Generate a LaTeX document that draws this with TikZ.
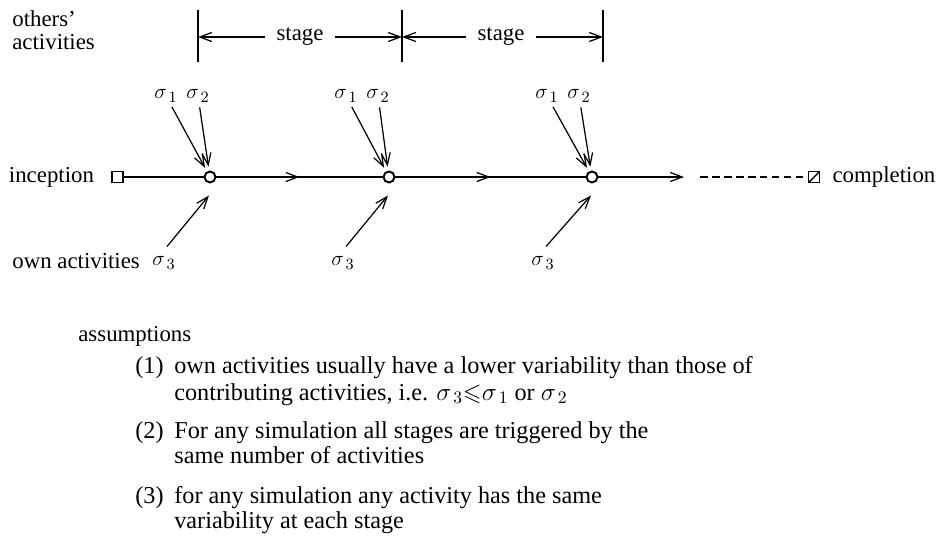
\documentclass[tikz,border=0pt]{standalone}
\usepackage{amsmath,amssymb}
\usepackage{fontspec}
\setmainfont{Liberation Serif}
\usepackage{tikz}
\usetikzlibrary{
    arrows.meta,       % barb arrow tips
    positioning,       % labels beside the end boxes
    calc,
    decorations.markings % arrow in the middle of a segment
}

\begin{document}
\begin{tikzpicture}[
    x=0.02cm, y=-0.02cm,
    txt/.style={inner sep=0pt, font=\fontsize{13}{14.2}\selectfont},
    item/.style={inner sep=0pt, anchor=base west, text height=9pt, text depth=2.5pt,
        font=\fontsize{13.8}{14.2}\selectfont},
    sig/.style={inner sep=0pt, font=\fontsize{13}{14.2}\selectfont},
    junction/.style={draw, circle, line width=1.1pt, minimum size=0.22cm, inner sep=0pt},
    endbox/.style={draw, rectangle, line width=0.8pt, minimum size=0.22cm, inner sep=0pt},
    mainline/.style={line width=0.7pt},
    arrow/.style={-{Straight Barb[length=2.4mm, width=1.8mm]}, line width=0.7pt},
    midarrow/.style={postaction=decorate, decoration={markings,
        mark=at position 0.5 with {\arrow{Straight Barb[length=2.4mm, width=1.8mm]}}}},
  ]
    \useasboundingbox (0,0) rectangle (942,548);

    % Stage markers
    \node[txt, anchor=base west] (oth1) at (12,26) {others'};
    \node[txt, anchor=base west] (oth2) at (12,49) {activities};
    \coordinate (b1t) at (198,10); \coordinate (b1b) at (198,62);
    \coordinate (b2t) at (402,10); \coordinate (b2b) at (402,62);
    \coordinate (b3t) at (603,10); \coordinate (b3b) at (603,62);
    \draw[mainline] (b1t) -- (b1b);
    \draw[mainline] (b2t) -- (b2b);
    \draw[mainline] (b3t) -- (b3b);
    \node[txt, inner xsep=0.22cm] (st1) at (300,37) {stage};
    \node[txt, inner xsep=0.22cm] (st2) at (501,37) {stage};
    \draw[arrow] (st1.west) -- (st1.west -| b1t);
    \draw[arrow] (st1.east) -- (st1.east -| b2t);
    \draw[arrow] (st2.west) -- (st2.west -| b2t);
    \draw[arrow] (st2.east) -- (st2.east -| b3t);

    % Main line
    \node[endbox] (start) at (117.5,177) {};
    \node[txt, left=0.34cm of start] (inc) {inception};
    \node[junction] (j1) at (210,177) {};
    \node[junction] (j2) at (389,177) {};
    \node[junction] (j3) at (592,177) {};
    \coordinate (e3) at (684,177);
    \coordinate (d0) at (700,177);
    \node[endbox, path picture={\draw (path picture bounding box.south west) -- (path picture bounding box.north east);}] (finish) at (814,177) {};
    \node[txt, right=0.24cm of finish] (comp) {completion};

    \draw[mainline] (start) -- (j1);
    \draw[mainline, midarrow] (j1) -- (j2);
    \draw[mainline, midarrow] (j2) -- (j3);
    \draw[arrow] (j3) -- (e3);
    \draw[mainline, dash pattern=on 0.15cm off 0.09cm] (d0) -- (finish);

    % Contributing activities
    \node[sig] (s1a) at (166,96) {$\sigma_{\,1}$};
    \node[sig] (s1b) at (198,96) {$\sigma_{\,2}$};
    \node[sig] (s2a) at (346,96) {$\sigma_{\,1}$};
    \node[sig] (s2b) at (378,96) {$\sigma_{\,2}$};
    \node[sig] (s3a) at (547,96) {$\sigma_{\,1}$};
    \node[sig] (s3b) at (579,96) {$\sigma_{\,2}$};
    \draw[arrow, shorten <=0.1cm, shorten >=0.08cm] (s1a) -- (j1);
    \draw[arrow, shorten <=0.1cm, shorten >=0.08cm] (s1b) -- (j1);
    \draw[arrow, shorten <=0.1cm, shorten >=0.08cm] (s2a) -- (j2);
    \draw[arrow, shorten <=0.1cm, shorten >=0.08cm] (s2b) -- (j2);
    \draw[arrow, shorten <=0.1cm, shorten >=0.08cm] (s3a) -- (j3);
    \draw[arrow, shorten <=0.1cm, shorten >=0.08cm] (s3b) -- (j3);

    % Own activities
    \node[txt, anchor=base west] (own) at (12,268) {own activities};
    \node[sig] (s1c) at (164,263) {$\sigma_{\,3}$};
    \node[sig] (s2c) at (343,263) {$\sigma_{\,3}$};
    \node[sig] (s3c) at (543,263) {$\sigma_{\,3}$};
    \draw[arrow] ([shift={(3,-10)}]s1c.north) -- ([shift={(-1,12)}]j1.south);
    \draw[arrow] ([shift={(3,-10)}]s2c.north) -- ([shift={(-1,12)}]j2.south);
    \draw[arrow] ([shift={(3,-10)}]s3c.north) -- ([shift={(-1,12)}]j3.south);

    % Assumptions
    \node[txt, anchor=base west] (ass) at (78,341) {assumptions};
    \node[item] (n1) at (135,373) {(1)};
    \node[item] (t1a) at (174,373) {own activities usually have a lower variability than those of};
    \node[item] (t1b) at (174,400) {contributing activities, i.e. $\sigma_{\,3}{\leqslant}\sigma_{\,1}$ or $\sigma_{\,2}$};
    \node[item] (n2) at (135,438) {(2)};
    \node[item] (t2a) at (174,438) {For any simulation all stages are triggered by the};
    \node[item] (t2b) at (174,463) {same number of activities};
    \node[item] (n3) at (135,503) {(3)};
    \node[item] (t3a) at (174,503) {for any simulation any activity has the same};
    \node[item] (t3b) at (174,528) {variability at each stage};
  \end{tikzpicture}
\end{document}
